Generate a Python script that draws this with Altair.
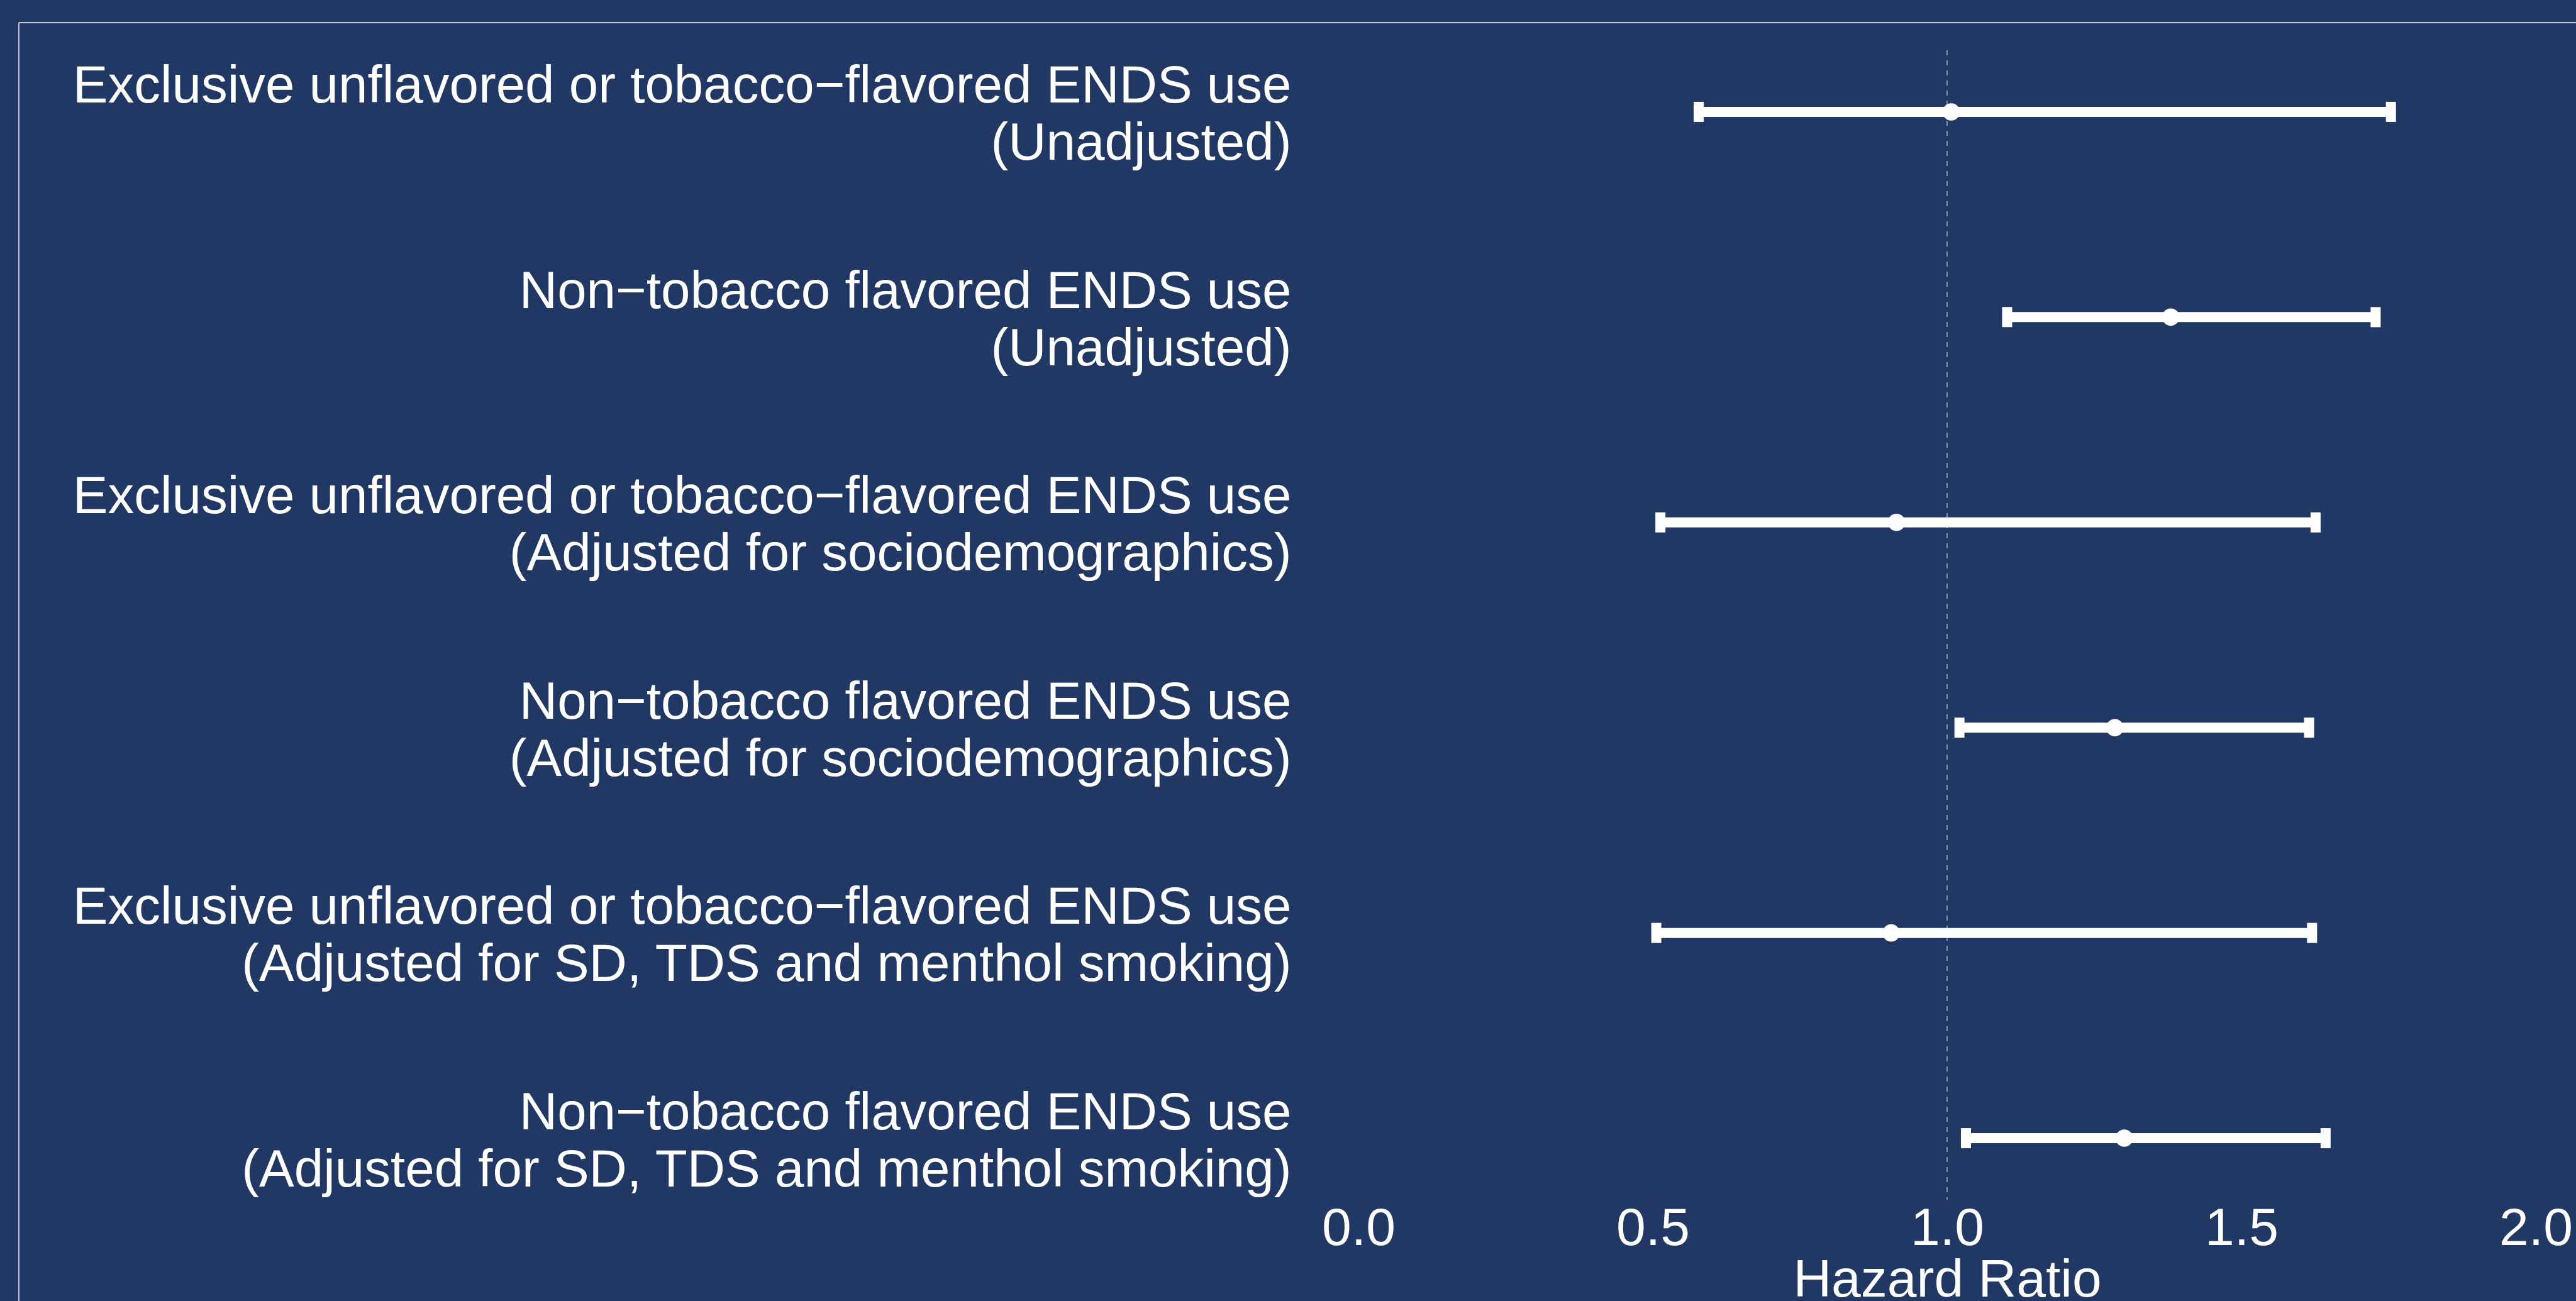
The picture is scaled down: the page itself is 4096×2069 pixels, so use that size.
import altair as alt
import pandas as pd

# ---- data ----
labels = [
    "Exclusive unflavored or tobacco\u2212flavored ENDS use|(Unadjusted)",
    "Non\u2212tobacco flavored ENDS use|(Unadjusted)",
    "Exclusive unflavored or tobacco\u2212flavored ENDS use|(Adjusted for sociodemographics)",
    "Non\u2212tobacco flavored ENDS use|(Adjusted for sociodemographics)",
    "Exclusive unflavored or tobacco\u2212flavored ENDS use|(Adjusted for SD, TDS and menthol smoking)",
    "Non\u2212tobacco flavored ENDS use|(Adjusted for SD, TDS and menthol smoking)",
]
hazard_ratio = [1.007, 1.380, 0.914, 1.285, 0.905, 1.301]
ci_lower = [0.578, 1.102, 0.513, 1.021, 0.506, 1.032]
ci_upper = [1.754, 1.728, 1.626, 1.615, 1.620, 1.643]
x_ticks = [0.0, 0.5, 1.0, 1.5, 2.0]
reference_value = [1.0]

df = pd.DataFrame({"label": labels, "hr": hazard_ratio, "lo": ci_lower, "hi": ci_upper})
ref_df = pd.DataFrame({"ref": reference_value})
one = pd.DataFrame({"k": [0]})

BG = "#213864"
FONT = "Liberation Sans"
W, H = 1872, 1828
PAD_L, PAD_T, PAD_R, PAD_B = 2160, 80, 64, 161
LINE_H = 91

x_scale = alt.Scale(domain=[0, 2], nice=False, zero=False)
y_scale = alt.Scale(type="point", padding=0.3)

x_axis = alt.Axis(
    values=x_ticks, format=".1f", title="Hazard Ratio",
    labelFontSize=84, labelColor="white", labelFont=FONT, labelFlush=False, labelOverlap=False,
    labelPadding=1, ticks=True, tickSize=4, tickColor="#333333", tickWidth=1.5,
    domain=False, grid=False,
    titleFontSize=84, titleFont=FONT, titleColor="white", titleFontWeight="normal",
    titleY=87, titleBaseline="top",
)
y_axis = alt.Axis(
    title=None, labelExpr="split(datum.value, '|')",
    labelFontSize=83.5, labelColor="white", labelFont=FONT, labelAlign="right",
    labelLimit=0, labelPadding=107, labelLineHeight=LINE_H, labelOffset=-40,
    labelOverlap=False, ticks=False, tickSize=0, domain=False, grid=False,
)

x_enc = alt.X("lo:Q", scale=x_scale, axis=x_axis)
y_enc = alt.Y("label:N", sort=labels, scale=y_scale, axis=y_axis)

vline = alt.Chart(ref_df).mark_rule(
    color="#9ea8bd", strokeWidth=1.6, strokeDash=[8, 8]
).encode(x=alt.X("ref:Q", scale=x_scale))

bars = alt.Chart(df).mark_rule(color="white", strokeWidth=16, strokeCap="butt").encode(
    x=x_enc, x2="hi:Q", y=y_enc
)
cap_lo = alt.Chart(df).mark_tick(color="white", orient="vertical", size=32, thickness=16, opacity=1).encode(
    x=alt.X("lo:Q", scale=x_scale), y=alt.Y("label:N", sort=labels, scale=y_scale)
)
cap_hi = alt.Chart(df).mark_tick(color="white", orient="vertical", size=32, thickness=16, opacity=1).encode(
    x=alt.X("hi:Q", scale=x_scale), y=alt.Y("label:N", sort=labels, scale=y_scale)
)
points = alt.Chart(df).mark_circle(color="white", size=760, opacity=1).encode(
    x=alt.X("hr:Q", scale=x_scale), y=alt.Y("label:N", sort=labels, scale=y_scale)
)

border_top = alt.Chart(one).mark_rule(color="white", strokeWidth=1.4).encode(
    x=alt.value(-PAD_L + 30), x2=alt.value(W + PAD_R + 20), y=alt.value(-PAD_T + 36)
)
border_left = alt.Chart(one).mark_rule(color="white", strokeWidth=1.4).encode(
    x=alt.value(-PAD_L + 30), y=alt.value(-PAD_T + 36), y2=alt.value(H + PAD_B + 20)
)

chart = alt.layer(vline, bars, cap_lo, cap_hi, points, border_top, border_left).properties(
    width=W, height=H,
    autosize=alt.AutoSizeParams(type="none"),
    padding={"left": PAD_L, "top": PAD_T, "right": PAD_R, "bottom": PAD_B},
    background=BG,
).configure(font=FONT).configure_view(stroke=None, fill=None)

chart.save("out.html", embed_options={"renderer": "svg", "actions": False})
